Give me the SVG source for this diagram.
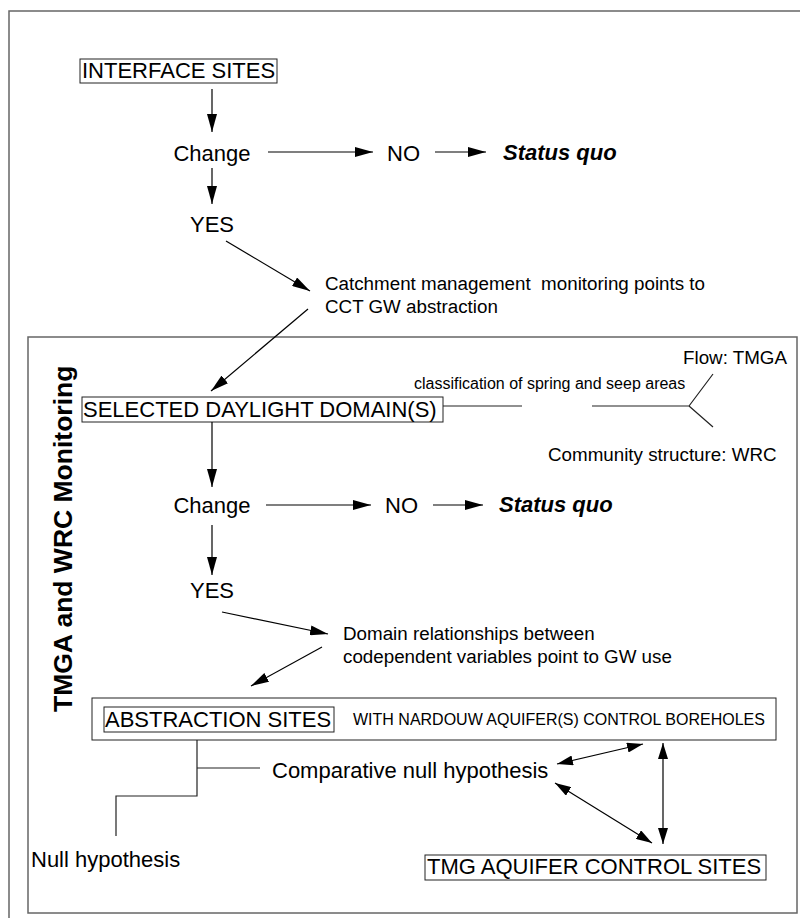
<svg xmlns="http://www.w3.org/2000/svg" width="800" height="918" viewBox="0 0 800 918">
<style>
text { font-family: "Liberation Sans", Arial, sans-serif; fill: #000; white-space: pre; }
.big { font-size: 22px; }
.mid { font-size: 18.8px; }
.sm { font-size: 16px; }
.bi { font-size: 22px; font-weight: bold; font-style: italic; }
.frame { fill: none; stroke: #666; stroke-width: 1.5; }
.box { fill: none; stroke: #222; stroke-width: 1; }
.arr { stroke: #000; stroke-width: 1.2; fill: none; marker-end: url(#ah); }
.dbl { stroke: #000; stroke-width: 1.2; fill: none; marker-end: url(#ah2); marker-start: url(#ah2); }
.ln { stroke: #222; stroke-width: 1.2; fill: none; }
</style>
<defs>
<marker id="ah" markerUnits="userSpaceOnUse" markerWidth="18" markerHeight="10" refX="18" refY="5" orient="auto">
<path d="M0,0 L18,5 L0,10 z" fill="#000"/>
</marker>
<marker id="ah2" markerUnits="userSpaceOnUse" markerWidth="16" markerHeight="10" refX="16" refY="5" orient="auto-start-reverse">
<path d="M0,0 L16,5 L0,10 z" fill="#000"/>
</marker>
</defs>
<rect width="800" height="918" fill="#fff"/>
<g id="outer-frame"><path class="frame" d="M9,918 V11 H800"/></g>
<g id="inner-frame"><rect class="frame" x="28" y="337" width="769" height="576"/></g>
<g id="vertical-title"><text transform="translate(72,712) rotate(-90)" style="font-size:26.5px;font-weight:bold">TMGA and WRC Monitoring</text></g>

<g id="interface-sites"><rect class="box" x="80" y="59" width="197" height="24"/><text class="big" x="82" y="78">INTERFACE SITES</text></g>
<g id="change1"><text class="big" x="212" y="161" text-anchor="middle">Change</text></g>
<g id="no1"><text class="big" x="387" y="161">NO</text></g>
<g id="status1"><text class="bi" x="503" y="160">Status quo</text></g>
<g id="yes1"><text class="big" x="212" y="232" text-anchor="middle">YES</text></g>
<g id="catchment"><text class="mid" x="325" y="290" xml:space="preserve">Catchment management  monitoring points to</text><text class="mid" x="325" y="313">CCT GW abstraction</text></g>

<g id="selected-domain"><rect class="box" x="82" y="397" width="361" height="25"/><text class="big" x="83" y="417">SELECTED DAYLIGHT DOMAIN(S)</text></g>
<g id="classification"><text class="sm" x="414" y="389">classification of spring and seep areas</text></g>
<g id="flow"><text class="mid" x="683" y="364">Flow: TMGA</text></g>
<g id="community"><text class="mid" x="548" y="461">Community structure: WRC</text></g>
<g id="change2"><text class="big" x="212" y="513" text-anchor="middle">Change</text></g>
<g id="no2"><text class="big" x="385" y="513">NO</text></g>
<g id="status2"><text class="bi" x="499" y="512">Status quo</text></g>
<g id="yes2"><text class="big" x="212" y="598" text-anchor="middle">YES</text></g>
<g id="domain"><text class="mid" x="343" y="640">Domain relationships between</text><text class="mid" x="343" y="663">codependent variables point to GW use</text></g>

<g id="abstraction"><rect class="box" x="92" y="698" width="684" height="42"/><rect class="box" x="104" y="707" width="230" height="25"/><text class="big" x="105" y="727">ABSTRACTION SITES</text><text class="sm" x="353" y="725">WITH NARDOUW AQUIFER(S) CONTROL BOREHOLES</text></g>
<g id="comparative"><text class="big" x="272" y="778">Comparative null hypothesis</text></g>
<g id="null"><text class="big" x="31" y="867">Null hypothesis</text></g>
<g id="tmg-control"><rect class="box" x="425" y="855" width="341" height="25"/><text class="big" x="427" y="874">TMG AQUIFER CONTROL SITES</text></g>

<g id="connectors">
<line class="arr" x1="212" y1="89" x2="212" y2="132"/>
<line class="arr" x1="268" y1="152" x2="373" y2="152"/>
<line class="arr" x1="435" y1="152" x2="486" y2="152"/>
<line class="arr" x1="212" y1="168" x2="212" y2="204"/>
<line class="arr" x1="226" y1="241" x2="310" y2="291"/>
<line class="arr" x1="308" y1="309" x2="211" y2="391"/>
<line class="arr" x1="212" y1="422" x2="212" y2="487"/>
<line class="arr" x1="266" y1="505" x2="371" y2="505"/>
<line class="arr" x1="433" y1="505" x2="483" y2="505"/>
<line class="arr" x1="212" y1="525" x2="212" y2="575"/>
<line class="arr" x1="222" y1="612" x2="328" y2="634"/>
<line class="arr" x1="322" y1="647" x2="251" y2="686"/>
<line class="ln" x1="443" y1="406" x2="522" y2="406"/>
<path class="ln" d="M592,406 H689 L713,374 M689,406 L713,427"/>
<path class="ln" d="M197,740 V796 H116 V836 M197,768 H260"/>
<line class="dbl" x1="557" y1="764" x2="643" y2="744"/>
<line class="dbl" x1="555" y1="783" x2="652" y2="843"/>
<line class="dbl" x1="663" y1="743" x2="663" y2="844"/>
</g>
</svg>
